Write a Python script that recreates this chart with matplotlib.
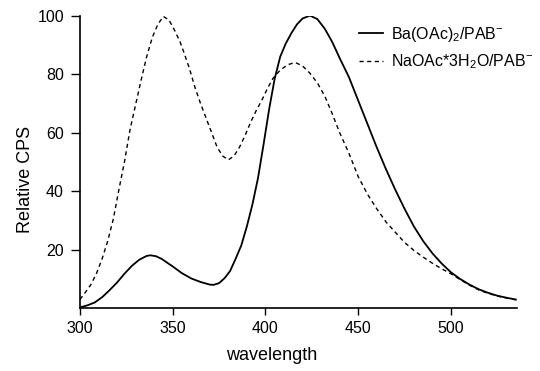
import matplotlib
matplotlib.use("Agg")
import matplotlib.pyplot as plt

# emission spectra (wavelength in nm, relative CPS)
ba_wl = [300, 304, 308, 312, 316, 320, 324, 328, 332, 336, 338, 341, 344, 347,
         350, 355, 360, 365, 370, 372, 375, 378, 381, 384, 387, 390, 393, 396,
         399, 402, 405, 408, 411, 414, 417, 420, 424, 428, 432, 436, 440, 445,
         450, 455, 460, 465, 470, 475, 480, 485, 490, 495, 500, 505, 510, 515,
         520, 525, 530, 535]
ba_cps = [0.3, 1.0, 2.0, 3.8, 6.2, 8.8, 11.8, 14.5, 16.6, 17.9, 18.1, 17.8,
          16.9, 15.6, 14.3, 12.0, 10.2, 9.0, 8.1, 8.0, 8.6, 10.3, 12.8, 17.0,
          21.5, 28.0, 35.5, 44.5, 56.0, 68.0, 78.5, 86.0, 90.5, 94.0, 97.0,
          99.0, 100.0, 98.8, 95.5, 91.0, 85.5, 79.0, 71.0, 63.0, 55.0, 47.5,
          40.5, 34.0, 28.0, 23.0, 18.8, 15.3, 12.3, 10.0, 8.1, 6.5, 5.3, 4.3,
          3.6, 3.0]

na_wl = [300, 303, 306, 309, 312, 315, 318, 321, 324, 327, 330, 333, 336, 339,
         342, 345, 348, 351, 354, 356, 359, 362, 365, 368, 371, 374, 377, 380,
         383, 386, 389, 392, 395, 398, 401, 404, 408, 412, 416, 420, 424, 428,
         432, 436, 440, 445, 450, 455, 460, 465, 470, 475, 480, 485, 490, 495,
         500, 505, 510, 515, 520, 525, 530, 535]
na_cps = [3.0, 5.5, 8.2, 12.0, 17.0, 23.0, 30.5, 40.5, 50.0, 61.0, 69.5, 78.0,
          86.0, 92.5, 97.0, 99.7, 98.5, 95.0, 91.0, 87.5, 82.0, 75.5, 70.0,
          65.0, 60.0, 55.0, 52.0, 50.7, 52.0, 55.0, 59.0, 63.5, 67.5, 71.0,
          75.0, 78.5, 81.4, 83.2, 84.0, 82.8, 80.3, 77.0, 72.5, 66.5, 60.0,
          53.0, 45.0, 39.0, 34.0, 29.5, 26.0, 22.5, 19.8, 17.5, 15.4, 13.5,
          11.8, 9.8, 7.9, 6.3, 5.1, 4.2, 3.5, 2.9]

x_ticks = [300, 350, 400, 450, 500]
y_ticks = [20, 40, 60, 80, 100]

plt.rcParams['font.family'] = ['Liberation Sans', 'DejaVu Sans']
plt.rcParams['mathtext.fontset'] = 'custom'
plt.rcParams['mathtext.rm'] = 'Liberation Sans'
plt.rcParams['mathtext.it'] = 'Liberation Sans'

fig = plt.figure(figsize=(5.4, 3.71), dpi=100)
ax = fig.add_axes([0.148, 0.169, 0.809, 0.789])

ax.plot(ba_wl, ba_cps, color='black', lw=1.3, label='Ba(OAc)$_2$/PAB$^{-}$')
ax.plot(na_wl, na_cps, color='black', lw=1.0, linestyle=(0, (3, 2.5)),
        label='NaOAc*3H$_2$O/PAB$^{-}$')

ax.set_xlim(300, 535.5)
ax.set_ylim(0, 100)
ax.set_xticks(x_ticks)
ax.set_yticks(y_ticks)
ax.spines['top'].set_visible(False)
ax.spines['right'].set_visible(False)
for s in ['left', 'bottom']:
    ax.spines[s].set_linewidth(1.2)
ax.tick_params(axis='x', direction='out', length=5, width=1, pad=4.5,
               labelsize=11.5)
ax.tick_params(axis='y', direction='out', length=6.5, width=1, pad=5,
               labelsize=11.5)

ax.set_xlabel('wavelength', fontsize=13)
ax.set_ylabel('Relative CPS', fontsize=13)
ax.xaxis.set_label_coords(0.44, -0.16)
ax.yaxis.set_label_coords(-0.125, 0.44)
ax.xaxis.label.set_va('center')
ax.yaxis.label.set_va('center')

ax.legend(loc='upper left', bbox_to_anchor=(0.625, 0.99), frameon=False,
          fontsize=11.5, handlelength=1.5, handletextpad=0.5,
          labelspacing=0.55, borderaxespad=0)

fig.savefig('out.png', dpi=100)
